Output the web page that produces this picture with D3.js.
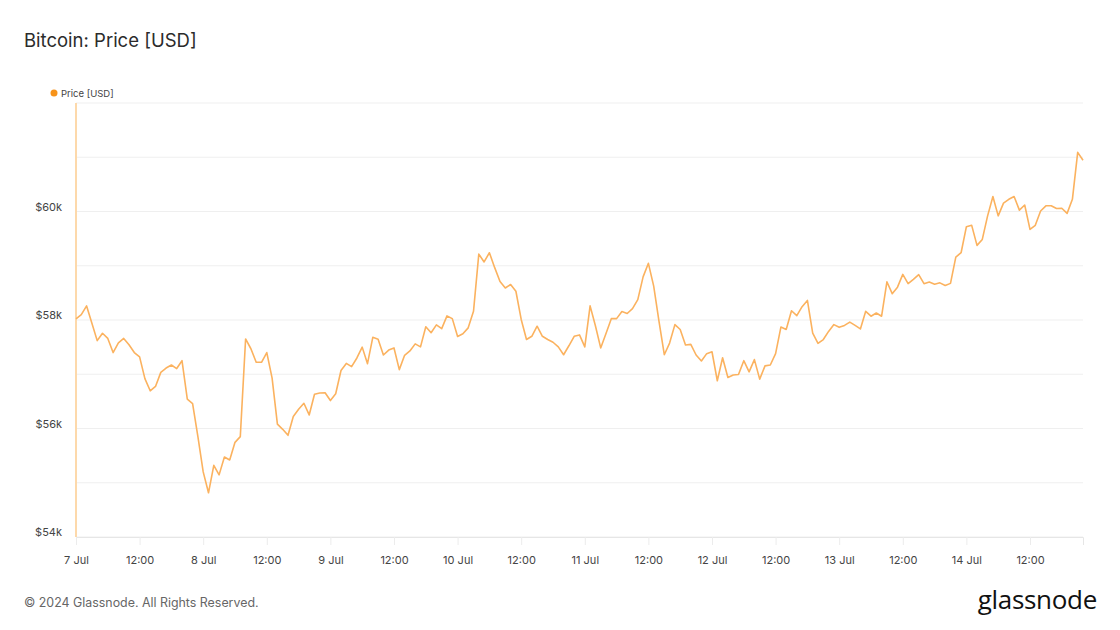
<!DOCTYPE html>
<html>
<head>
<meta charset="utf-8">
<script src="https://cdn.jsdelivr.net/npm/d3@7"></script>
<style>
  html, body { margin: 0; padding: 0; background: #fff; }
  svg { display: block; font-family: Inter, "Noto Sans", sans-serif; }
</style>
</head>
<body>
<svg id="chart" width="1120" height="630"></svg>
<script>
// ---- data ----
const seriesName = "Price [USD]";
const startTime = "2024-07-07T00:00:00Z"; // hourly series
const priceUSD = [
  58020, 58100, 58260, 57940, 57620, 57755, 57660, 57400, 57580, 57660, 57545, 57400,
  57320, 56920, 56695, 56775, 57035, 57115, 57170, 57105, 57250, 56540, 56460, 55850,
  55200, 54815, 55320, 55145, 55475, 55420, 55745, 55850, 57650, 57470, 57220, 57220,
  57400, 56930, 56080, 55985, 55875, 56220, 56355, 56465, 56250, 56630, 56655, 56660,
  56515, 56640, 57070, 57200, 57140, 57300, 57500, 57195, 57680, 57645, 57355, 57445,
  57485, 57085, 57350, 57430, 57560, 57505, 57875, 57765, 57910, 57840, 58075, 58025,
  57695, 57745, 57855, 58160, 59215, 59070, 59240, 58965, 58710, 58590, 58655, 58530,
  58010, 57640, 57700, 57885, 57700, 57640, 57590, 57505, 57360, 57525, 57700, 57725,
  57505, 58260, 57895, 57485, 57750, 58025, 58025, 58155, 58120, 58210, 58375, 58795,
  59045, 58625, 57975, 57360, 57575, 57915, 57825, 57540, 57550, 57355, 57245, 57380,
  57415, 56880, 57305, 56940, 56985, 56995, 57250, 57045, 57270, 56910, 57155, 57170,
  57380, 57870, 57825, 58170, 58080, 58245, 58360, 57760, 57570, 57640, 57790, 57915,
  57865, 57900, 57960, 57900, 57835, 58160, 58070, 58130, 58070, 58705, 58485, 58605,
  58840, 58670, 58750, 58835, 58670, 58700, 58660, 58685, 58635, 58675, 59160, 59240,
  59720, 59745, 59375, 59485, 59920, 60275, 59920, 60155, 60225, 60275, 60025, 60120,
  59670, 59745, 60010, 60105, 60105, 60055, 60060, 59965, 60225, 61090, 60945
];
const xTickTimes = [
  "2024-07-07T00:00:00Z","2024-07-07T12:00:00Z","2024-07-08T00:00:00Z","2024-07-08T12:00:00Z",
  "2024-07-09T00:00:00Z","2024-07-09T12:00:00Z","2024-07-10T00:00:00Z","2024-07-10T12:00:00Z",
  "2024-07-11T00:00:00Z","2024-07-11T12:00:00Z","2024-07-12T00:00:00Z","2024-07-12T12:00:00Z",
  "2024-07-13T00:00:00Z","2024-07-13T12:00:00Z","2024-07-14T00:00:00Z","2024-07-14T12:00:00Z"
];
const xTickLabels = ["7 Jul","12:00","8 Jul","12:00","9 Jul","12:00","10 Jul","12:00",
  "11 Jul","12:00","12 Jul","12:00","13 Jul","12:00","14 Jul","12:00"];
const yGridValues = [54000, 55000, 56000, 57000, 58000, 59000, 60000, 61000, 62000];
const yTickValues = [54000, 56000, 58000, 60000];
const yTickLabels = ["$54k", "$56k", "$58k", "$60k"];

// ---- layout ----
const svg = d3.select("#chart");
const plot = { left: 76, right: 1083, top: 103, bottom: 537 };

const t0 = new Date(startTime).getTime();
const points = priceUSD.map((v, i) => ({ t: new Date(t0 + i * 3600e3), v }));

const x = d3.scaleUtc()
  .domain([new Date(xTickTimes[0]), points[points.length - 1].t])
  .range([plot.left, plot.right]);
const y = d3.scaleLinear().domain([54000, 62000]).range([plot.bottom, plot.top]);

// title
svg.append("text").attr("x", 24).attr("y", 47)
  .attr("font-size", 18.5).attr("fill", "#2b2b2b").text("Bitcoin: Price [USD]");

// legend
svg.append("circle").attr("cx", 54).attr("cy", 93).attr("r", 3.5).attr("fill", "#f7931a");
svg.append("text").attr("x", 61).attr("y", 96.5)
  .attr("font-size", 9.5).attr("fill", "#444").text(seriesName);

// grid lines
svg.append("g").selectAll("line").data(yGridValues).join("line")
  .attr("x1", plot.left).attr("x2", plot.right)
  .attr("y1", d => y(d)).attr("y2", d => y(d))
  .attr("stroke", "#efefef").attr("stroke-width", 1);

// x axis
const xAxis = d3.axisBottom(x)
  .tickValues(xTickTimes.map(d => new Date(d)))
  .tickFormat((d, i) => xTickLabels[i])
  .tickSize(8).tickPadding(11);
const gx = svg.append("g").attr("transform", `translate(0,${plot.bottom})`).call(xAxis);
gx.select(".domain").attr("stroke", "#e6e6e6");
gx.selectAll(".tick line").attr("stroke", "#ececec");
gx.selectAll(".tick text").attr("fill", "#444").attr("font-size", 11)
  .attr("font-family", "Inter, 'Noto Sans', sans-serif");

// y axis labels
const yAxis = d3.axisLeft(y).tickValues(yTickValues)
  .tickFormat((d, i) => yTickLabels[i]).tickSize(0).tickPadding(14);
const gy = svg.append("g").attr("transform", `translate(${plot.left},0)`).call(yAxis);
gy.select(".domain").remove();
gy.selectAll(".tick text").attr("fill", "#444").attr("font-size", 11)
  .attr("dy", "-0.1em").attr("font-family", "Inter, 'Noto Sans', sans-serif");

// left axis line (orange tint)
svg.append("line").attr("x1", plot.left).attr("x2", plot.left)
  .attr("y1", plot.top).attr("y2", plot.bottom)
  .attr("stroke", "#fdd9ab").attr("stroke-width", 2);

// price line
const line = d3.line().x(d => x(d.t)).y(d => y(d.v));
svg.append("path").datum(points)
  .attr("d", line).attr("fill", "none")
  .attr("stroke", "#fbb25f").attr("stroke-width", 1.6)
  .attr("stroke-linejoin", "round");

// footer
svg.append("text").attr("x", 24).attr("y", 607)
  .attr("font-size", 12.4).attr("fill", "#666")
  .text("© 2024 Glassnode. All Rights Reserved.");
svg.append("text").attr("x", 1097).attr("y", 609).attr("text-anchor", "end")
  .attr("font-size", 26).attr("fill", "#111").attr("letter-spacing", "-0.3")
  .attr("font-family", "'Open Sans', Inter, sans-serif")
  .text("glassnode");
</script>
</body>
</html>
